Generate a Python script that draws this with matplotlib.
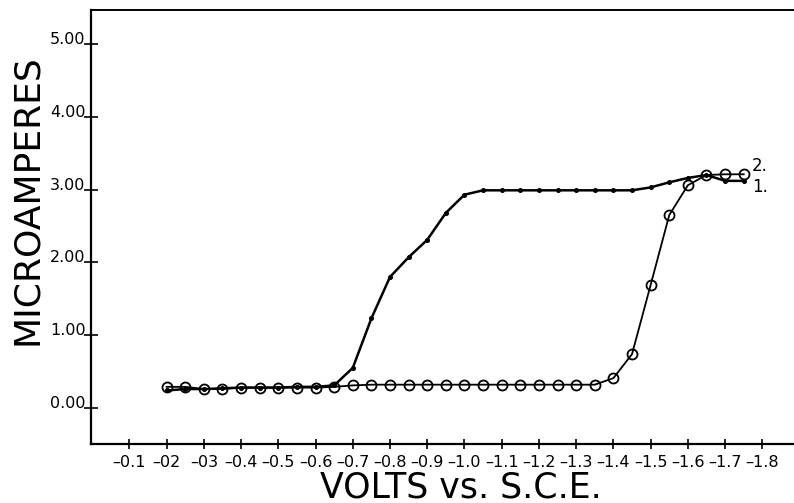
import matplotlib
matplotlib.use("Agg")
import matplotlib.pyplot as plt

# ---- data ----
volts = [0.20, 0.25, 0.30, 0.35, 0.40, 0.45, 0.50, 0.55, 0.60, 0.65,
         0.70, 0.75, 0.80, 0.85, 0.90, 0.95, 1.00, 1.05, 1.10, 1.15,
         1.20, 1.25, 1.30, 1.35, 1.40, 1.45, 1.50, 1.55, 1.60, 1.65,
         1.70, 1.75]
curve1 = [0.24, 0.26, 0.26, 0.27, 0.28, 0.28, 0.28, 0.29, 0.29, 0.31,
          0.55, 1.23, 1.80, 2.07, 2.31, 2.68, 2.93, 2.99, 2.99, 2.99,
          2.99, 2.99, 2.99, 2.99, 2.99, 2.99, 3.03, 3.10, 3.16, 3.20,
          3.12, 3.12]
curve2 = [0.29, 0.29, 0.26, 0.26, 0.28, 0.28, 0.28, 0.28, 0.28, 0.29,
          0.31, 0.32, 0.32, 0.32, 0.32, 0.32, 0.32, 0.32, 0.32, 0.32,
          0.32, 0.32, 0.32, 0.32, 0.41, 0.74, 1.69, 2.65, 3.06, 3.20,
          3.21, 3.21]
xticks = [0.1, 0.2, 0.3, 0.4, 0.5, 0.6, 0.7, 0.8, 0.9, 1.0,
          1.1, 1.2, 1.3, 1.4, 1.5, 1.6, 1.7, 1.8]
xticklabels = ["\u20130.1", "\u201302", "\u201303", "\u20130.4", "\u20130.5",
               "\u20130.6", "\u20130.7", "\u20130.8", "\u20130.9", "\u20131.0",
               "\u20131.1", "\u20131.2", "\u20131.3", "\u20131.4", "\u20131.5",
               "\u20131.6", "\u20131.7", "\u20131.8"]
yticks = [0, 1, 2, 3, 4, 5]
yticklabels = ["0.00", "1.00", "2.00", "3.00", "4.00", "5.00"]

W, H = 794, 503
fig = plt.figure(figsize=(W / 100, H / 100), dpi=100)
ax = fig.add_axes([91 / W, (H - 444) / H, (W - 91) / W, (444 - 10) / H])

ax.plot(volts, curve1, color="black", lw=1.8, marker="o", ms=2.6,
        mfc="black", mec="black", zorder=3)
ax.plot(volts, curve2, color="black", lw=1.3, marker="o", ms=7.2,
        mfc="none", mec="black", mew=1.3, zorder=4)

ax.text(1.772, 3.32, "2.", fontsize=12, va="center", ha="left")
ax.text(1.772, 3.04, "1.", fontsize=12, va="center", ha="left")

ax.set_xlim(-0.003, 1.885)
ax.set_ylim(-0.495, 5.467)

ax.set_xticks(xticks)
ax.set_xticklabels(xticklabels, fontsize=11.5)
ax.set_yticks(yticks)
ax.set_yticklabels(yticklabels, fontsize=11.5)
for lab in ax.get_yticklabels():
    lab.set_verticalalignment("baseline")

ax.tick_params(axis="x", direction="inout", length=7, width=1.2, pad=4.5)
ax.tick_params(axis="y", direction="inout", length=10, width=1.2, pad=-1)

ax.spines["right"].set_visible(False)
for s in ["left", "bottom"]:
    ax.spines[s].set_linewidth(1.6)
ax.spines["top"].set_linewidth(1.4)

ax.set_xlabel("VOLTS vs. S.C.E.", fontsize=25)
ax.xaxis.set_label_coords((461 - 91) / (W - 91), -(487 - 444) / 434, transform=ax.transAxes)
ax.set_ylabel("MICROAMPERES", fontsize=26)
ax.yaxis.set_label_coords((27 - 91) / (W - 91), (444 - 200) / 434, transform=ax.transAxes)
ax.xaxis.label.set_verticalalignment("center")
ax.yaxis.label.set_verticalalignment("center")

fig.savefig("out.png", dpi=100)
